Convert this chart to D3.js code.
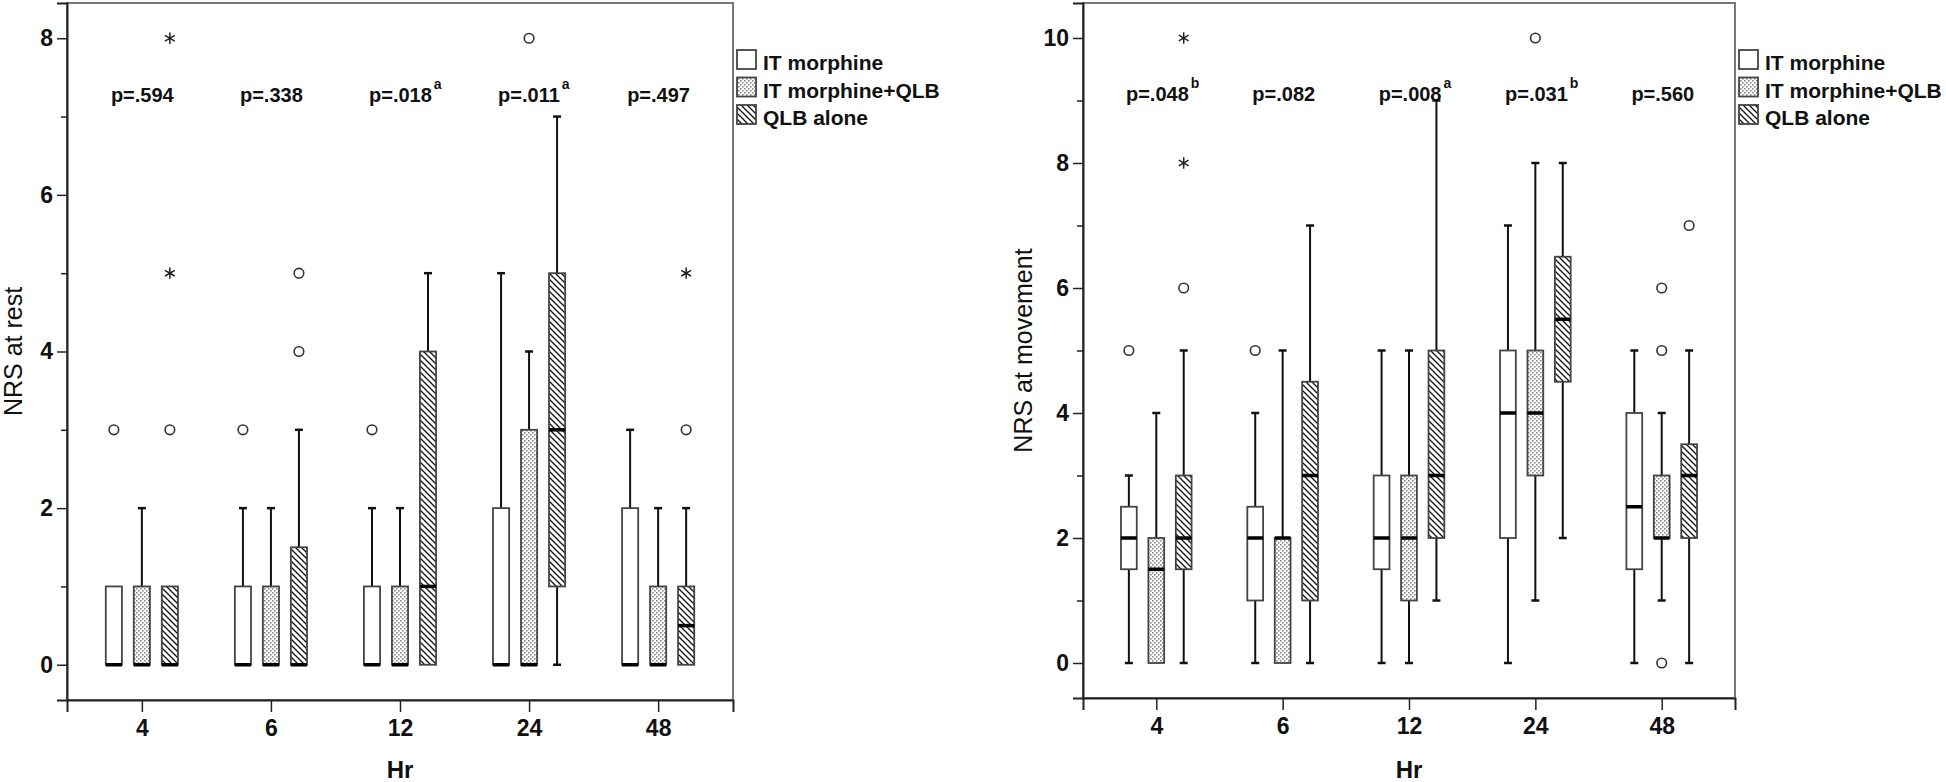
<!DOCTYPE html>
<html lang="en">
<head>
<meta charset="UTF-8">
<title>NRS box plots</title>
<script src="https://d3js.org/d3.v7.min.js"></script>
<style>
  body { margin: 0; background: #fff; }
  svg text { font-family: "Liberation Sans", Arial, sans-serif; fill: #111; }
</style>
</head>
<body>
<svg width="1946" height="782"></svg>
<script>
// categories
var hours = ["4", "6", "12", "24", "48"];
var groups = ["IT morphine", "IT morphine+QLB", "QLB alone"];

// box stats per hour: [low whisker, q1, median, q3, high whisker]
var restIT    = [[0,0,0,1,1],[0,0,0,1,2],[0,0,0,1,2],[0,0,0,2,5],[0,0,0,2,3]];
var restITQLB = [[0,0,0,1,2],[0,0,0,1,2],[0,0,0,1,2],[0,0,0,3,4],[0,0,0,1,2]];
var restQLB   = [[0,0,0,1,1],[0,0,0,1.5,3],[0,0,1,4,5],[0,1,3,5,7],[0,0,0.5,1,2]];
// outliers (circles) and extremes (stars) per hour
var restCircIT    = [[3],[3],[3],[],[]];
var restCircITQLB = [[],[],[],[8],[]];
var restCircQLB   = [[3],[4,5],[],[],[3]];
var restStarQLB   = [[5,8],[],[],[],[5]];
var restP   = ["p=.594", "p=.338", "p=.018", "p=.011", "p=.497"];
var restSup = ["", "", "a", "a", ""];

var moveIT    = [[0,1.5,2,2.5,3],[0,1,2,2.5,4],[0,1.5,2,3,5],[0,2,4,5,7],[0,1.5,2.5,4,5]];
var moveITQLB = [[0,0,1.5,2,4],[0,0,2,2,5],[0,1,2,3,5],[1,3,4,5,8],[1,2,2,3,4]];
var moveQLB   = [[0,1.5,2,3,5],[0,1,3,4.5,7],[1,2,3,5,9],[2,4.5,5.5,6.5,8],[0,2,3,3.5,5]];
var moveCircIT    = [[5],[5],[],[],[]];
var moveCircITQLB = [[],[],[],[10],[0,5,6]];
var moveCircQLB   = [[6],[],[],[],[7]];
var moveStarQLB   = [[8,10],[],[],[],[]];
var moveP   = ["p=.048", "p=.082", "p=.008", "p=.031", "p=.560"];
var moveSup = ["b", "", "a", "b", ""];

var svg = d3.select("svg");

// fill patterns
var defs = svg.append("defs");
var dots = defs.append("pattern").attr("id", "dots")
  .attr("patternUnits", "userSpaceOnUse").attr("width", 4).attr("height", 4);
dots.append("rect").attr("width", 4).attr("height", 4).attr("fill", "#fff");
dots.append("rect").attr("x", 0).attr("y", 0).attr("width", 1.6).attr("height", 1.6).attr("fill", "#8a8a8a");
dots.append("rect").attr("x", 2).attr("y", 2).attr("width", 1.6).attr("height", 1.6).attr("fill", "#8a8a8a");
var hatch = defs.append("pattern").attr("id", "hatch")
  .attr("patternUnits", "userSpaceOnUse").attr("width", 6).attr("height", 6);
hatch.append("rect").attr("width", 6).attr("height", 6).attr("fill", "#fff");
hatch.append("path").attr("d", "M-1,-1L7,7M-1,5L1,7M5,-1L7,1")
  .attr("stroke", "#111").attr("stroke-width", 1.3);
var fills = ["#fff", "url(#dots)", "url(#hatch)"];

function drawChart(c) {
  var g = svg.append("g");
  var x = d3.scalePoint().domain(hours).range([c.left, c.right]).padding(0.58);
  var y = d3.scaleLinear().domain(c.domain).range([c.bottom, c.top]);
  var step = x.step();
  var off = d3.scalePoint().domain(groups).range([-0.217 * step, 0.217 * step]);
  var bw = step * 0.125;

  // frame
  g.append("rect").attr("x", c.left).attr("y", c.top)
    .attr("width", c.right - c.left).attr("height", c.bottom - c.top)
    .attr("fill", "none").attr("stroke", "#777").attr("stroke-width", 2);

  // axes
  var ya = g.append("g").attr("transform", "translate(" + c.left + ",0)")
    .call(d3.axisLeft(y).tickValues(c.major).tickSize(10).tickPadding(4).tickFormat(d3.format("d")));
  g.append("g").attr("transform", "translate(" + c.left + ",0)")
    .call(d3.axisLeft(y).tickValues(c.minor).tickSize(6).tickFormat(""))
    .call(s => s.select(".domain").remove());
  var xa = g.append("g").attr("transform", "translate(0," + c.bottom + ")")
    .call(d3.axisBottom(x).tickSize(12).tickPadding(8));
  [ya, xa].forEach(a => {
    a.select(".domain").attr("stroke", "#222").attr("stroke-width", 2);
    a.selectAll("text").attr("font-size", 23).attr("font-weight", "bold").attr("fill", "#111");
  });
  g.selectAll(".tick line").attr("stroke", "#222").attr("stroke-width", 1.5);

  // axis titles
  g.append("text").attr("x", (c.left + c.right) / 2).attr("y", 778)
    .attr("text-anchor", "middle").attr("font-size", 24).attr("font-weight", "bold").text("Hr");
  g.append("text")
    .attr("transform", "translate(" + c.titleX + "," + (c.top + c.bottom) / 2 + ") rotate(-90)")
    .attr("text-anchor", "middle").attr("font-size", 25).text(c.title);

  // boxes
  c.stats.forEach(function (series, gi) {
    var gname = groups[gi];
    series.forEach(function (s, hi) {
      var cx = x(hours[hi]) + off(gname);
      var bg = g.append("g");
      // whiskers
      [[s[3], s[4]], [s[1], s[0]]].forEach(function (w) {
        if (w[0] === w[1]) return;
        bg.append("line").attr("x1", cx).attr("x2", cx).attr("y1", y(w[0])).attr("y2", y(w[1]))
          .attr("stroke", "#111").attr("stroke-width", 2);
        bg.append("line").attr("x1", cx - 4).attr("x2", cx + 4).attr("y1", y(w[1])).attr("y2", y(w[1]))
          .attr("stroke", "#111").attr("stroke-width", 2.5);
      });
      bg.append("rect").attr("x", cx - bw / 2).attr("y", y(s[3]))
        .attr("width", bw).attr("height", y(s[1]) - y(s[3]))
        .attr("fill", fills[gi]).attr("stroke", "#444").attr("stroke-width", 1.8);
      bg.append("line").attr("x1", cx - bw / 2).attr("x2", cx + bw / 2)
        .attr("y1", y(s[2])).attr("y2", y(s[2]))
        .attr("stroke", "#000").attr("stroke-width", 3.5);
    });
  });

  // outliers
  c.circles.forEach(function (series, gi) {
    series.forEach(function (vals, hi) {
      vals.forEach(function (v) {
        g.append("circle").attr("cx", x(hours[hi]) + off(groups[gi])).attr("cy", y(v))
          .attr("r", 4.8).attr("fill", "none").attr("stroke", "#333").attr("stroke-width", 1.6);
      });
    });
  });
  c.stars.forEach(function (series, gi) {
    series.forEach(function (vals, hi) {
      vals.forEach(function (v) {
        g.append("path").attr("d", d3.symbol(d3.symbolAsterisk, 90)())
          .attr("transform", "translate(" + (x(hours[hi]) + off(groups[gi])) + "," + y(v) + ")")
          .attr("fill", "none").attr("stroke", "#222").attr("stroke-width", 1.5);
      });
    });
  });

  // p values
  hours.forEach(function (h, i) {
    var t = g.append("text").attr("x", x(h) - 0.24 * step).attr("y", y(c.pY))
      .attr("font-size", 20).attr("font-weight", "bold");
    t.append("tspan").text(c.p[i]);
    if (c.sup[i]) t.append("tspan").attr("dy", -13).attr("dx", 2).attr("font-size", 14).text(c.sup[i]);
  });

  // legend
  groups.forEach(function (name, i) {
    var ly = 50 + i * 27.5;
    g.append("rect").attr("x", c.right + 4).attr("y", ly).attr("width", 19).attr("height", 19)
      .attr("fill", fills[i]).attr("stroke", "#444").attr("stroke-width", 1.8);
    g.append("text").attr("x", c.right + 30).attr("y", ly + 20)
      .attr("font-size", 21).attr("font-weight", "bold").text(name);
  });
}

drawChart({
  left: 67, right: 733, top: 3, bottom: 700, domain: [-0.45, 8.45],
  major: [0, 2, 4, 6, 8], minor: [1, 3, 5, 7], title: "NRS at rest", titleX: 22,
  stats: [restIT, restITQLB, restQLB],
  circles: [restCircIT, restCircITQLB, restCircQLB],
  stars: [[], [], restStarQLB],
  p: restP, sup: restSup, pY: 7.18
});
drawChart({
  left: 1083, right: 1735, top: 3, bottom: 698, domain: [-0.56, 10.56],
  major: [0, 2, 4, 6, 8, 10], minor: [1, 3, 5, 7, 9], title: "NRS at movement", titleX: 1032,
  stats: [moveIT, moveITQLB, moveQLB],
  circles: [moveCircIT, moveCircITQLB, moveCircQLB],
  stars: [[], [], moveStarQLB],
  p: moveP, sup: moveSup, pY: 9.0
});
</script>
</body>
</html>
